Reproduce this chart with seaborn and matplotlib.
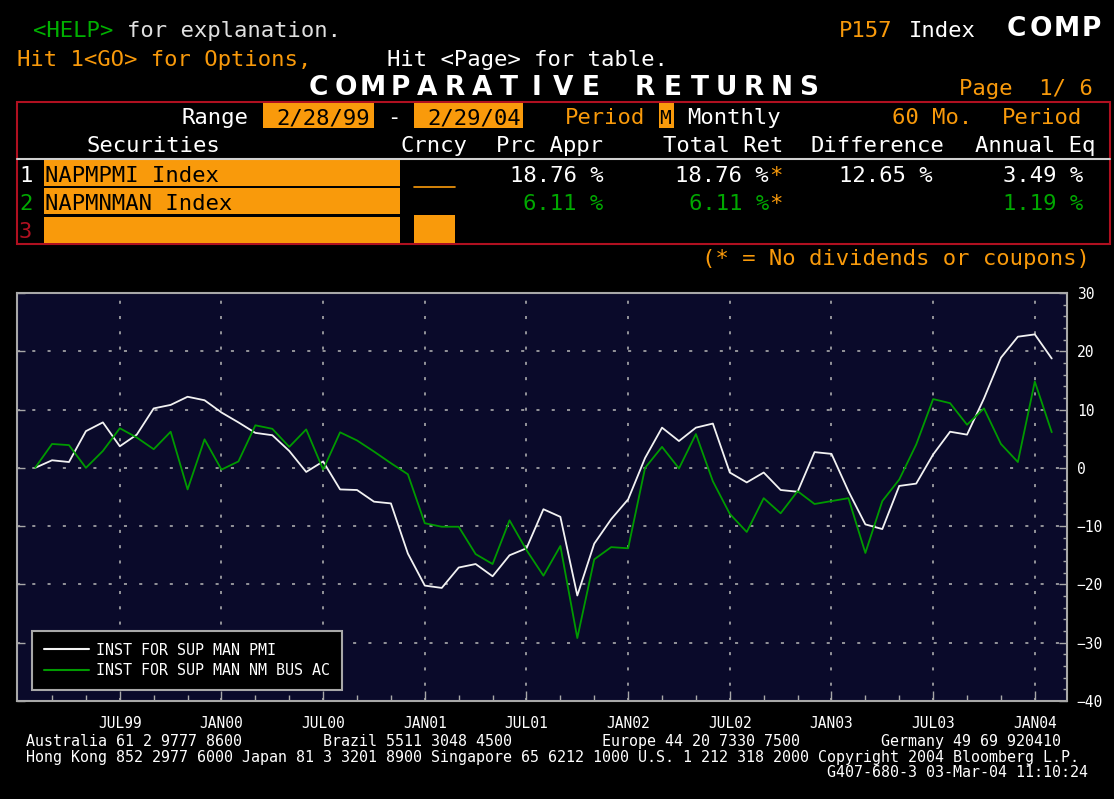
import numpy as np
import pandas as pd
import matplotlib
matplotlib.use("Agg")
import matplotlib.pyplot as plt
import seaborn as sns
from matplotlib.patches import Rectangle
from matplotlib.lines import Line2D

# ---------------- data ----------------
months = pd.date_range("1999-02-28", "2004-02-29", freq="ME")
pmi = [0, 1.3, 1.0, 6.3, 7.8, 3.7, 5.7, 10.2, 10.8, 12.2, 11.6, 9.5, 7.8, 6.0, 5.6,
       2.9, -0.7, 1.1, -3.7, -3.8, -5.8, -6.1, -14.7, -20.2, -20.6, -17.1, -16.5,
       -18.6, -15.0, -13.8, -7.1, -8.4, -21.9, -13.0, -8.8, -5.4, 1.7, 6.9, 4.6,
       6.9, 7.6, -0.8, -2.5, -0.8, -3.8, -4.1, 2.7, 2.4, -4.0, -9.7, -10.5, -3.1,
       -2.7, 2.3, 6.2, 5.7, 11.9, 18.9, 22.5, 22.9, 18.76]
nmbus = [0, 4.1, 3.9, 0.0, 2.9, 6.8, 5.2, 3.2, 6.2, -3.7, 4.9, -0.3, 1.1, 7.3, 6.7,
         3.6, 6.6, -0.3, 6.1, 4.7, 2.8, 0.8, -1.1, -9.5, -10.1, -10.1, -14.8, -16.5,
         -9.0, -14.1, -18.5, -13.4, -29.2, -15.7, -13.6, -13.8, 0.0, 3.6, -0.1, 5.8,
         -2.3, -7.9, -11.0, -5.2, -7.8, -4.0, -6.2, -5.7, -5.2, -14.6, -5.7, -2.0,
         4.0, 11.8, 11.1, 7.4, 10.2, 4.1, 1.0, 14.8, 6.11]
series_names = ["INST FOR SUP MAN PMI", "INST FOR SUP MAN NM BUS AC"]
xtick_months = ["JUL99", "JAN00", "JUL00", "JAN01", "JUL01", "JAN02",
                "JUL02", "JAN03", "JUL03", "JAN04"]
securities = ["NAPMPMI Index", "NAPMNMAN Index"]
prc_appr = ["18.76 %", "6.11 %"]
total_ret = ["18.76 %", "6.11 %"]
annual_eq = ["3.49 %", "1.19 %"]
difference = "12.65 %"

# ---------------- styling ----------------
W, H = 1114, 799
MONO = "DejaVu Sans Mono"
ORANGE = "#f99a0b"
GREEN = "#00a800"
LINEGREEN = "#009a00"
RED = "#b01020"
GRAY = "#a8a8a8"
HS = 16

sns.set_style("dark")
plt.rcParams["font.family"] = [MONO, "DejaVu Sans"]

fig = plt.figure(figsize=(W / 100, H / 100), dpi=100, facecolor="black")


def T(x, y, s, c, size=HS, ha="left", weight="normal", family=MONO):
    fig.text(x / W, 1 - y / H, s, color=c, fontsize=size, ha=ha, va="baseline",
             family=family, weight=weight)


def R(x0, y0, x1, y1, fc="none", ec="none", lw=0):
    fig.add_artist(Rectangle((x0 / W, 1 - y1 / H), (x1 - x0) / W, (y1 - y0) / H,
                             transform=fig.transFigure, facecolor=fc,
                             edgecolor=ec, linewidth=lw))


def L(x0, y0, x1, y1, c, lw=1.5):
    fig.add_artist(Line2D([x0 / W, x1 / W], [1 - y0 / H, 1 - y1 / H],
                          transform=fig.transFigure, color=c, linewidth=lw))


def WIDE(x0, x1, y, s, size=19):
    w = (x1 - x0) / len(s)
    for k, ch in enumerate(s):
        if ch != " ":
            T(x0 + (k + 0.5) * w, y, ch, "white", size=size, ha="center",
              weight="bold", family="DejaVu Sans")


# ---------------- header ----------------
T(33.3, 37, "<HELP>", "#00b000")
T(126.8, 37, "for explanation.", "#e0e0e0")
T(838.7, 37, "P157", ORANGE)
T(908.7, 37, "Index", "white")
WIDE(1003.7, 1103.7, 36, "COMP")

T(17.3, 66, "Hit 1<GO> for Options,", ORANGE)
T(387, 66, "Hit <Page> for table.", "white")

WIDE(305, 822, 95, "COMPARATIVE RETURNS")
T(958.7, 95, "Page  1/ 6", ORANGE)

# table frame
R(17.3, 101.7, 1110, 244.3, ec=RED, lw=1.5)
T(181.7, 124, "Range", "white")
R(263.3, 102.7, 373.7, 128.3, fc=ORANGE)
T(276.7, 124, "2/28/99", "black")
T(387, 124, "-", "white")
R(413.7, 102.7, 522.7, 128.3, fc=ORANGE)
T(427, 124, "2/29/04", "black")
T(565, 124, "Period", ORANGE)
R(659, 103, 673.7, 128.3, fc=ORANGE)
T(659.5, 124, "M", "black", size=14)
T(687, 124, "Monthly", "white")
T(892, 124, "60 Mo.", ORANGE)
T(1002, 124, "Period", ORANGE)

T(86.7, 152.5, "Securities", "white")
T(400, 152.5, "Crncy", "white")
T(496, 152.5, "Prc Appr", "white")
T(662.7, 152.5, "Total Ret", "white")
T(810, 152.5, "Difference", "white")
T(974.7, 152.5, "Annual Eq", "white")
L(17.3, 159.3, 1110, 159.3, "#d0d0d0", lw=1.5)

row_base = [181.7, 210, 238]
row_box = [(160, 185.7), (187.7, 214.3), (216.7, 243.3)]
num_cols = ["white", GREEN, RED]
for k in range(3):
    R(44, row_box[k][0], 400, row_box[k][1], fc=ORANGE)
    T(19, row_base[k], str(k + 1), num_cols[k])
for k, name in enumerate(securities):
    T(45, row_base[k], name, "black")
    c = "white" if k == 0 else GREEN
    T(603.7, row_base[k], prc_appr[k], c, ha="right")
    T(768.8, row_base[k], total_ret[k], c, ha="right")
    T(768.8, row_base[k], "*", ORANGE)
    T(1083.7, row_base[k], annual_eq[k], c, ha="right")
T(838.7, row_base[0], difference, "white")
L(413.7, 186.7, 454.7, 186.7, ORANGE, lw=1.2)
R(413.7, 215, 454.7, 243.3, fc=ORANGE)

T(702, 265, "(* = No dividends or coupons)", ORANGE)

# ---------------- chart ----------------
ax = fig.add_axes([17.3 / W, 1 - 701 / H, (1067 - 17.3) / W, (701 - 293) / H])
ax.set_facecolor("#0a0a2a")

idx = np.arange(len(months))
df = pd.DataFrame({
    "month": np.concatenate([idx, idx]),
    "ret": pmi + nmbus,
    "series": [series_names[0]] * len(idx) + [series_names[1]] * len(idx),
})
sns.lineplot(data=df, x="month", y="ret", hue="series",
             palette={series_names[0]: "#f2f2f2", series_names[1]: LINEGREEN},
             linewidth=1.3, ax=ax, legend=True)

ax.set_xlim(-1.05, 60.9)
ax.set_ylim(-40, 30)
ax.set_xlabel("")
ax.set_ylabel("")

ax.set_yticks(np.arange(-40, 31, 10))
ax.set_yticks(np.arange(-40, 31, 2), minor=True)
tick_pos = [i for i, d in enumerate(months) if d.month in (7, 1)]
ax.set_xticks(tick_pos)
ax.set_xticklabels(xtick_months)
ax.set_xticks(np.arange(1, 61, 2), minor=True)

ax.grid(False)
for yv in range(-30, 30, 10):
    ax.axhline(yv, color="#b8b8b8", linestyle=(0, (2, 8)), linewidth=1.1, zorder=0.5)
for xv in tick_pos:
    ax.axvline(xv, color="#b8b8b8", linestyle=(0, (2, 8)), linewidth=1.1, zorder=0.5)

ax.tick_params(axis="y", which="major", direction="in", left=True, right=True,
               labelleft=False, labelright=True, color=GRAY, labelcolor="white",
               labelsize=10.5, pad=7, length=6, width=1)
ax.tick_params(axis="y", which="minor", direction="in", left=False, right=True,
               color=GRAY, length=3, width=1)
ax.tick_params(axis="x", which="both", direction="in", bottom=True, top=False,
               color=GRAY, labelcolor="white", labelsize=10.5, pad=11)
ax.tick_params(axis="x", which="major", length=7, width=1)
ax.tick_params(axis="x", which="minor", length=4, width=1)
for lab in ax.get_xticklabels() + ax.get_yticklabels():
    lab.set_family(MONO)
for sp in ax.spines.values():
    sp.set_color(GRAY)
    sp.set_linewidth(1.5)
    sp.set_visible(True)

handles, labels = ax.get_legend_handles_labels()
leg = ax.legend(handles, labels, loc="lower left", bbox_to_anchor=(0.0143, 0.027),
                frameon=True, facecolor="black", edgecolor=GRAY, fancybox=False,
                framealpha=1, prop={"family": MONO, "size": 10.8},
                labelcolor="white", handlelength=3.0, handletextpad=0.45,
                borderpad=0.8, labelspacing=0.35, borderaxespad=0)
leg.get_frame().set_linewidth(1.5)
for h in leg.get_lines():
    h.set_linewidth(1.5)

# ---------------- footer ----------------
FS = 10.85
line1 = ("Australia 61 2 9777 8600".ljust(33) + "Brazil 5511 3048 4500".ljust(31)
         + "Europe 44 20 7330 7500".ljust(31) + "Germany 49 69 920410")
line2 = ("Hong Kong 852 2977 6000 Japan 81 3 3201 8900 Singapore 65 6212 1000 "
         "U.S. 1 212 318 2000 Copyright 2004 Bloomberg L.P.")
T(26, 746, line1, "white", size=FS)
T(26, 762, line2, "white", size=FS)
T(827.3, 777, "G407-680-3 03-Mar-04 11:10:24", "white", size=FS)

fig.savefig("out.png", dpi=100, facecolor="black")
